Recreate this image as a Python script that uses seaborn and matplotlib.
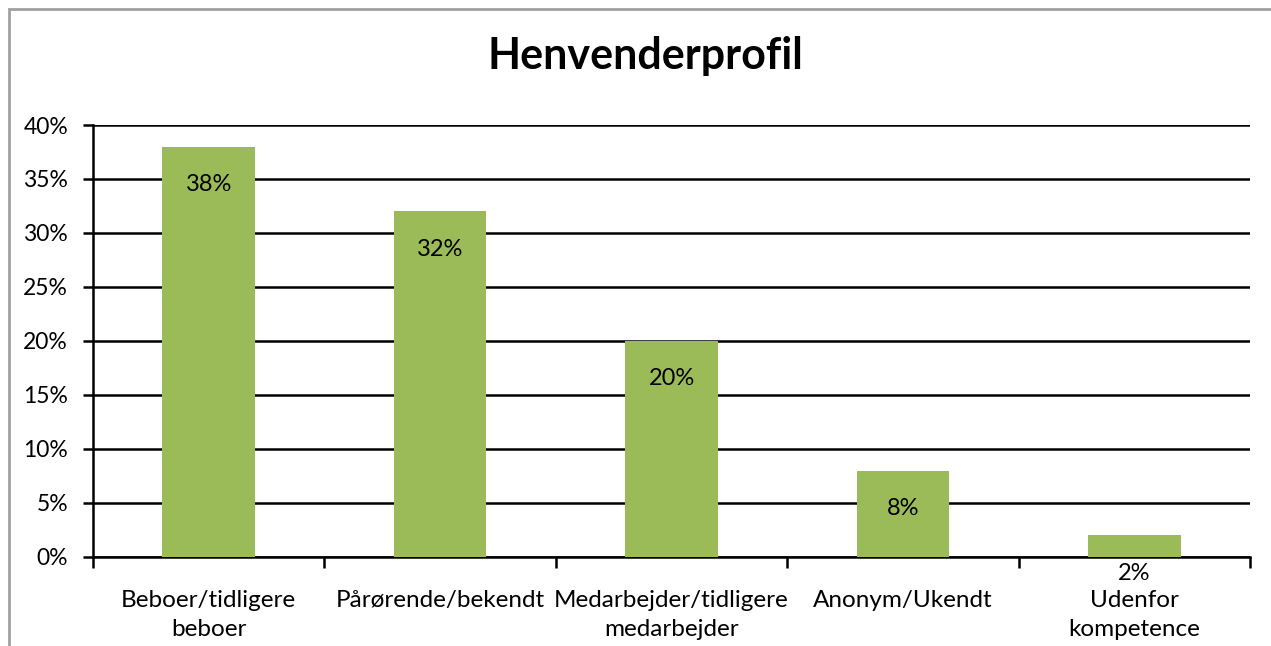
import matplotlib
matplotlib.use('Agg')
import matplotlib.pyplot as plt
import seaborn as sns
import pandas as pd
from matplotlib.patches import Rectangle
from matplotlib.ticker import FuncFormatter, FixedLocator

# chart data
categories = ['Beboer/tidligere\nbeboer', 'Pårørende/bekendt', 'Medarbejder/tidligere\nmedarbejder',
              'Anonym/Ukendt', 'Udenfor\nkompetence']
values = [38, 32, 20, 8, 2]
y_ticks = [0, 5, 10, 15, 20, 25, 30, 35, 40]

df = pd.DataFrame({'kategori': categories, 'andel': values})

sns.set_style('white')
plt.rcParams['font.family'] = ['Lato', 'DejaVu Sans']
plt.rcParams['text.color'] = 'black'
plt.rcParams['xtick.color'] = 'black'
plt.rcParams['ytick.color'] = 'black'

fig = plt.figure(figsize=(12.71, 6.46), dpi=100)
ax = fig.add_axes([0.0732, 0.1378, 0.9103, 0.6687])

sns.barplot(data=df, x='kategori', y='andel', color='#9BBB59', width=0.4,
            saturation=1, edgecolor='none', linewidth=0, ax=ax, zorder=3)

ax.set_ylim(0, 40)
ax.set_xlim(-0.5, len(categories) - 0.5)
ax.yaxis.set_major_locator(FixedLocator(y_ticks))
ax.yaxis.set_major_formatter(FuncFormatter(lambda v, p: f'{int(v)}%'))
ax.grid(axis='y', color='black', linewidth=1.8, zorder=1)
ax.set_axisbelow(True)

# labels under the top of each bar
for i, v in enumerate(values):
    ax.text(i, v - 3.5, f'{v}%', ha='center', va='center', fontsize=17, color='black',
            clip_on=False, zorder=4)

# x ticks at category boundaries, labels at centres
ax.set_xticks([i - 0.5 for i in range(len(categories) + 1)])
ax.set_xticklabels([])
ax.set_xticks(range(len(categories)), minor=True)
ax.set_xticklabels(categories, minor=True, fontsize=17.5, linespacing=1.45)
ax.tick_params(axis='x', which='major', length=8, width=1.8, direction='out', bottom=True)
ax.tick_params(axis='x', which='minor', length=0, pad=24)
ax.tick_params(axis='y', length=7, width=1.8, direction='out', left=True, labelsize=16.5, pad=11)
ax.set_xlabel('')
ax.set_ylabel('')

for s in ['top', 'right']:
    ax.spines[s].set_visible(False)
for s in ['left', 'bottom']:
    ax.spines[s].set_color('black')
    ax.spines[s].set_linewidth(1.8)

fig.text(0.508, 0.913, 'Henvenderprofil', ha='center', va='center', fontsize=31, fontweight='bold')

# outer chart border (cut off on right and bottom)
fig.patches.append(Rectangle((9 / 1271, -0.1), 1.2, 1 - 9 / 646 + 0.1, transform=fig.transFigure,
                             fill=False, edgecolor='#a0a0a0', linewidth=2))

fig.savefig('out.png', dpi=100)
